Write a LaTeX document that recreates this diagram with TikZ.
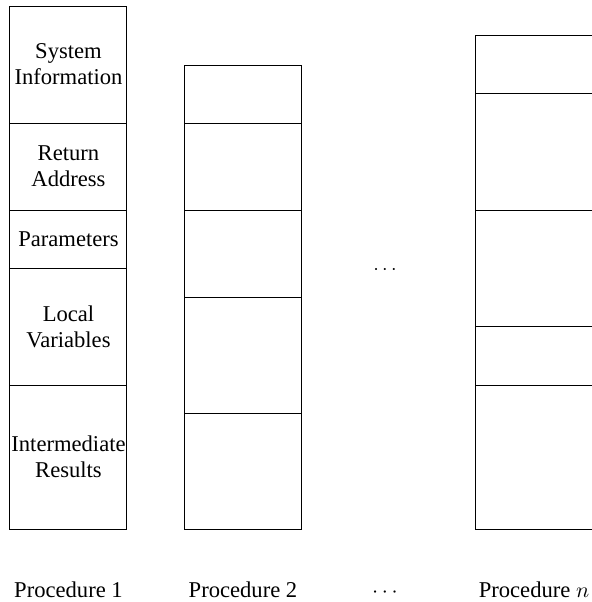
\documentclass[tikz,border=0pt]{standalone}
\usepackage{fontspec}
\setmainfont{Liberation Serif}
\begin{document}
\begin{tikzpicture}[x=0.5pt,y=-0.5pt,
  cell/.style={draw, line width=0.5pt, text width=58.5pt, minimum width=58.5pt, inner sep=0pt, align=center, font=\fontsize{11.3}{13}\selectfont},
  lbl/.style={anchor=base, inner sep=0pt, font=\fontsize{11.3}{13}\selectfont}]
\useasboundingbox (0,0) rectangle (592,602);
% Procedure 1
\node[cell, minimum height=58.5pt] (a1) at (68.5,64.5) {System\\Information};
\node[cell, minimum height=43.5pt] (a2) at (68.5,166.5) {Return\\Address};
\node[cell, minimum height=29pt] (a3) at (68.5,239) {Parameters};
\node[cell, minimum height=58.5pt] (a4) at (68.5,326.5) {Local\\Variables};
\node[cell, minimum height=72pt] (a5) at (68.5,457) {Intermediate\\Results};
% Procedure 2
\node[cell, minimum height=29pt] (b1) at (243,94) {};
\node[cell, minimum height=43.5pt] (b2) at (243,166.5) {};
\node[cell, minimum height=43.5pt] (b3) at (243,253.5) {};
\node[cell, minimum height=58pt] (b4) at (243,355) {};
\node[cell, minimum height=58pt] (b5) at (243,471) {};
% Procedure n
\node[cell, minimum height=29pt] (c1) at (534,64) {};
\node[cell, minimum height=58.5pt] (c2) at (534,151.5) {};
\node[cell, minimum height=58pt] (c3) at (534,268) {};
\node[cell, minimum height=29.5pt] (c4) at (534,355.5) {};
\node[cell, minimum height=72pt] (c5) at (534,457) {};
% dots
\node[inner sep=0pt] (d1) at (385,270) {$\cdots$};
% labels
\node[lbl] (l1) at (68.5,597) {Procedure 1};
\node[lbl] (l2) at (243,597) {Procedure 2};
\node[lbl] (l3) at (385,597) {$\cdots$};
\node[lbl] (l4) at (534,597) {Procedure $n$};
\end{tikzpicture}
\end{document}
